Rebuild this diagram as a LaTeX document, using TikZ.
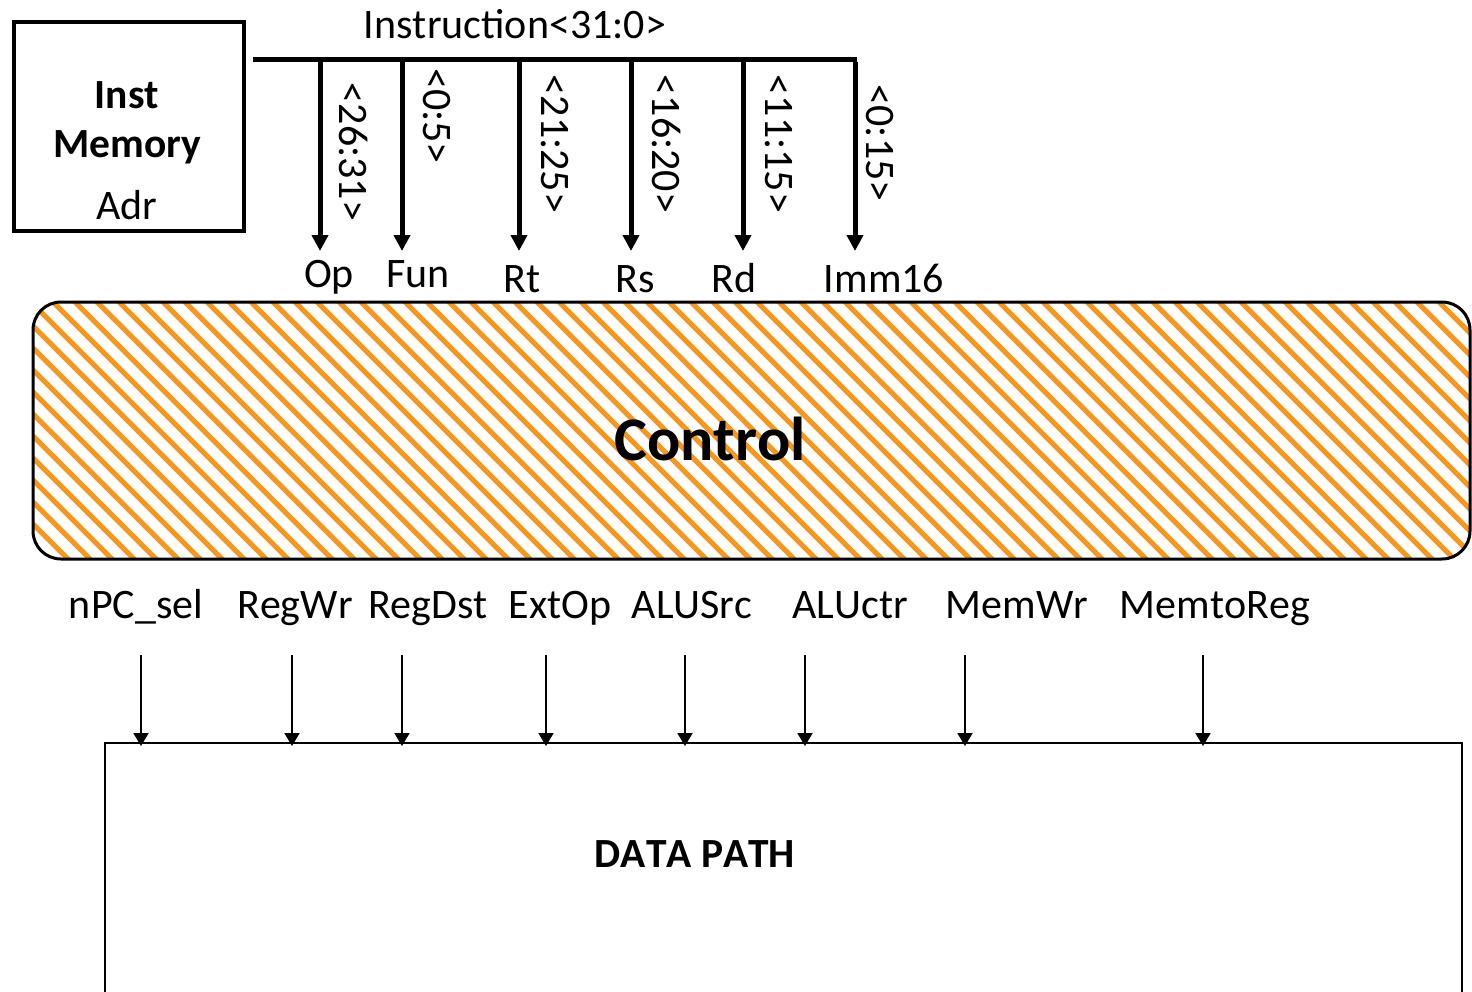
\documentclass[tikz,border=0pt]{standalone}
\usepackage{fontspec}
\setmainfont{Carlito}[Kerning=Off]
\usetikzlibrary{arrows.meta}
\definecolor{hatchorange}{RGB}{248,151,29}
\tikzset{
  lbl/.style={inner sep=0pt, font=\fontsize{42}{50}\selectfont, anchor=base},
  bitlbl/.style={inner sep=0pt, font=\fontsize{42}{50}\selectfont, rotate=-90},
  boldlbl/.style={inner sep=0pt, font=\fontsize{41.5}{50}\selectfont\bfseries, anchor=base},
  busarrow/.style={line width=5pt, -{Triangle[width=16pt,length=16pt]}},
  sigarrow/.style={line width=2pt, -{Triangle[width=15pt,length=13pt]}},
}
\begin{document}
\begin{tikzpicture}[x=1pt, y=-1pt]
\useasboundingbox (0,0) rectangle (1472,991);
% Instruction memory
\draw[line width=4.5pt] (14,22) rectangle (244,231);
\node[boldlbl] (inst) at (127,108) {Inst};
\node[boldlbl] (mem) at (127,157) {Memory};
\node[lbl] (adr) at (127,219) {Adr};
% bus
\coordinate (busL) at (253,59);
\coordinate (busR) at (857,59);
\draw[line width=5pt] (busL) -- (busR);
\node[lbl] (instr) at (515,38) {Instruction<31:0>};
% bit-field arrows
\foreach \n/\x/\lx/\ly/\bits in {
  op/320/354/152/{<26:31>},
  fun/402/437/116/{<0:5>},
  rt/519/555/144/{<21:25>},
  rs/631/667/144/{<16:20>},
  rd/743/779/144/{<11:15>},
  imm/855/880/143/{<0:15>}}{
  \coordinate (\n top) at (\x,62);
  \coordinate (\n end) at (\x,251);
  \draw[busarrow] (\n top) -- (\n end);
  \node[bitlbl] (\n bits) at (\lx,\ly) {\bits};
}
\node[lbl] (opl) at (329,287) {Op};
\node[lbl] (funl) at (418,287) {Fun};
\node[lbl] (rtl) at (522,292) {Rt};
\node[lbl] (rsl) at (635,292) {Rs};
\node[lbl] (rdl) at (734,292) {Rd};
\node[lbl] (imml) at (884,292) {Imm16};
% Control box
\begin{scope}
  \clip[rounded corners=28pt] (33,302) rectangle (1470,559);
  \fill[white] (33,302) rectangle (1470,559);
  \foreach \k in {-13,...,67}{
    \draw[hatchorange, line width=5pt] ({2+22*\k},295) -- ({2+22*\k+270},565);
  }
\end{scope}
\draw[line width=3pt, rounded corners=28pt] (33,302) rectangle (1470,559);
\node[inner sep=0pt, anchor=base, font=\fontsize{62}{72}\selectfont\bfseries] (ctrl) at (710,460) {Control};
% Data path box
\draw[line width=2pt] (105,743) rectangle (1462,1010);
\node[boldlbl] (dp) at (695,867) {DATA PATH};
% control signals
\foreach \n/\x/\lx/\txt in {
  npc/141/136/nPC\_sel,
  regwr/292/295/RegWr,
  regdst/402/428/RegDst,
  extop/546/560/ExtOp,
  alusrc/685/692/ALUSrc,
  aluctr/805/850/ALUctr,
  memwr/965/1017/MemWr,
  memtoreg/1203/1215/MemtoReg}{
  \node[lbl] (\n lbl) at (\lx,618) {\txt};
  \coordinate (\n s) at (\x,655);
  \coordinate (\n e) at (\x,746);
  \draw[sigarrow] (\n s) -- (\n e);
}
\end{tikzpicture}
\end{document}
